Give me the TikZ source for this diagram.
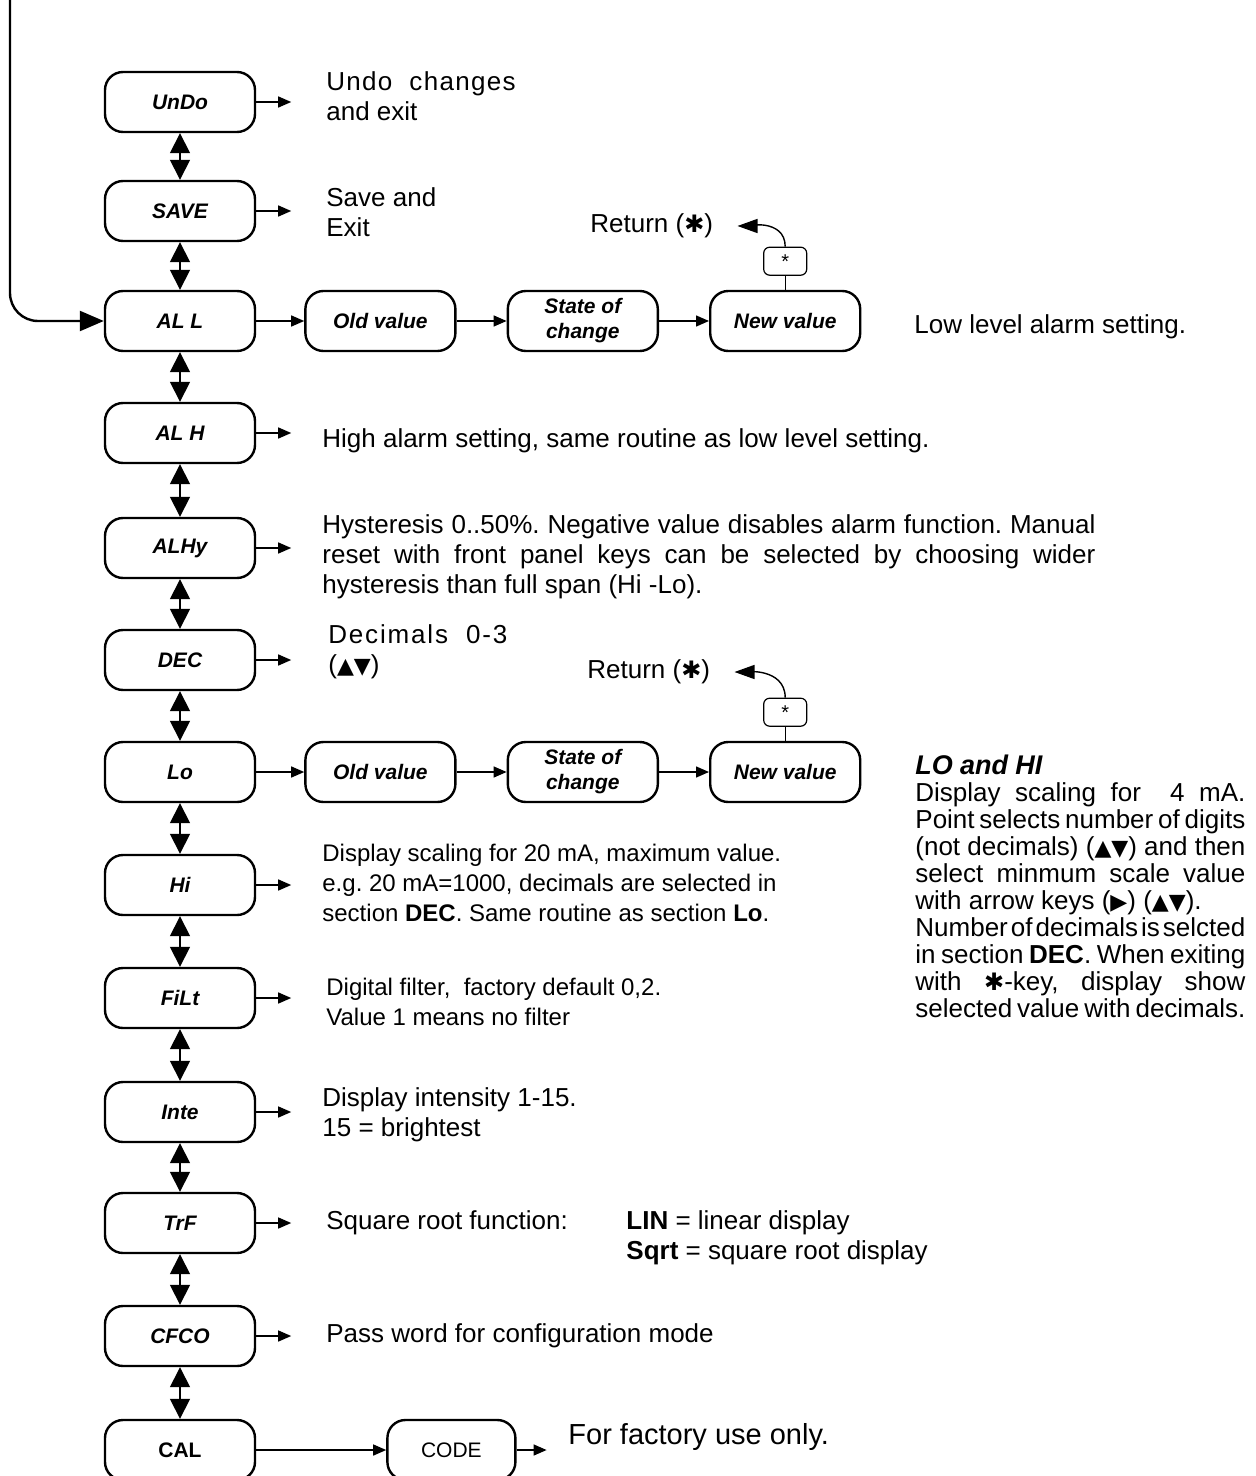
\documentclass[tikz,border=0pt]{standalone}
\usepackage{fontspec}
\setmainfont{Liberation Sans}
\newfontfamily\symfont{DejaVu Sans}
\usetikzlibrary{arrows.meta,positioning}
\frenchspacing

% key symbols used in the texts
\newcommand{\updn}{{\symfont\fontsize{11}{11}\selectfont ▲▼}}
\newcommand{\rgt}{{\symfont\fontsize{11}{11}\selectfont ▶}}
\newcommand{\starkey}{{\symfont\fontsize{12}{12}\selectfont ✱}}
% tight justified paragraph, breaks only where asked
\newcommand{\tightpar}{\hyphenpenalty=10000 \tolerance=10000
  \spaceskip=0.278em plus 0.6em minus 0.2em\relax}

\begin{document}
\begin{tikzpicture}[x=0.5pt,y=-0.5pt,
    menu/.style={draw,line width=1.2pt,rounded corners=9pt,minimum width=75pt,
      minimum height=30pt,inner sep=0pt,align=center,
      font=\fontsize{10.5}{12.5}\selectfont\bfseries\itshape},
    keybox/.style={draw,line width=0.6pt,rounded corners=3pt,minimum width=21.5pt,
      minimum height=14pt,inner sep=0pt,font=\fontsize{10}{10}\selectfont},
    desc/.style={anchor=west,align=left,inner sep=0pt,font=\fontsize{13}{15}\selectfont},
    small/.style={font=\fontsize{12}{15}\selectfont},
    nav/.style={line width=0.8pt,{Triangle[length=10pt,width=10pt]}-{Triangle[length=10pt,width=10pt]}},
    go/.style={line width=0.7pt,-{Triangle[length=6.5pt,width=5.5pt]}},
    back/.style={line width=0.7pt,-{Triangle[length=10pt,width=7pt]}}]
  \useasboundingbox (0,0) rectangle (1255,1476);

  % the menu column
  \foreach \name/\lbl/\y in {undo/UnDo/102,save/SAVE/211,all/AL L/321,alh/AL H/433,
      alhy/ALHy/548,dec/DEC/660,lo/Lo/772,hi/Hi/885,filt/FiLt/998,inte/Inte/1112,
      trf/TrF/1223,cfco/CFCO/1336}
    \node[menu] (\name) at (180,\y) {\lbl};
  \node[menu,font=\fontsize{10.5}{12}\selectfont\bfseries] (cal) at (180,1450) {CAL};

  \foreach \a/\b in {undo/save,save/all,all/alh,alh/alhy,alhy/dec,dec/lo,lo/hi,
      hi/filt,filt/inte,inte/trf,trf/cfco,cfco/cal}
    \draw[nav] (\a) -- (\b);

  \foreach \name in {undo,save,alh,alhy,dec,hi,filt,inte,trf,cfco} {
    \path (\name.east) ++(35,0) coordinate (\name-out);
    \draw[go] (\name) -- (\name-out);
  }

  % entry line
  \coordinate (entry) at (10,0);
  \draw[line width=1.2pt,-{Triangle[length=12pt,width=10pt]},rounded corners=14pt]
    (entry) |- (all);

  % AL L and Lo rows
  \foreach \row in {all,lo} {
    \node[menu,right=24pt of \row] (\row-old) {Old value};
    \node[menu,right=25pt of \row-old] (\row-state) {State of\\change};
    \node[menu,right=25pt of \row-state] (\row-new) {New value};
    \node[keybox,above=7pt of \row-new] (\row-key) {*};
    \draw[go] (\row) -- (\row-old);
    \draw[go] (\row-old) -- (\row-state);
    \draw[go] (\row-state) -- (\row-new);
    \draw[line width=0.6pt] (\row-key) -- (\row-new);
  }
  \node[desc] (all-ret) at (590,226) {Return (\starkey)};
  \node[desc] (lo-ret) at (587,672) {Return (\starkey)};
  \draw[back,shorten >=12pt] (all-key.north) to[out=90,in=0] (all-ret.east);
  \draw[back,shorten >=12pt] (lo-key.north) to[out=90,in=0] (lo-ret.east);

  % descriptions
  \node[desc] (undo-txt) at (326,96) {{\addfontfeature{LetterSpace=5}Undo \ changes}\\and exit};
  \node[desc] (save-txt) at (326,212) {Save and\\Exit};
  \node[desc] (all-txt) at (914,327) {Low level alarm setting.};
  \node[desc] (alh-txt) at (322,441) {High alarm setting, same routine as low level setting.};
  \node[desc,text width=386.5pt,align=justify] (alhy-txt) at (322,557)
    {Hysteresis 0..50\%. Negative value disables alarm function. Manual\linebreak
     reset with front panel keys can be selected by choosing wider\linebreak
     hysteresis than full span (Hi -Lo).};
  \node[desc] (dec-txt) at (328,652) {{\addfontfeature{LetterSpace=7}Decimals \ 0-3}\\(\updn)};
  \node[desc,small] (hi-txt) at (322,883) {Display scaling for 20 mA, maximum value.\\
    e.g. 20 mA=1000, decimals are selected in\\
    section \textbf{DEC}. Same routine as section \textbf{Lo}.};
  \node[desc,small] (filt-txt) at (326,1002) {Digital filter, \ factory default 0,2.\\Value 1 means no filter};
  \node[desc] (inte-txt) at (322,1115) {Display intensity 1-15.\\15 = brightest};
  \node[desc] (trf-txt) at (326,1223) {Square root function:};
  \node[desc] (trf-opt) at (626,1238) {\textbf{LIN} = linear display\\\textbf{Sqrt} = square root display};
  \node[desc] (cfco-txt) at (326,1336) {Pass word for configuration mode};

  % LO and HI note
  \node[anchor=north west,inner sep=0pt,text width=165pt,align=justify,
    font=\fontsize{13}{13.5}\selectfont] (lohi-txt) at (915,755)
    {\tightpar
     {\fontsize{13.5}{13.5}\selectfont\bfseries\itshape LO and HI}\\
     Display scaling for \ 4 mA.\linebreak
     Point selects number of digits\linebreak
     (not decimals) (\updn) and then\linebreak
     select minmum scale value\linebreak
     with arrow keys (\rgt) (\updn).\par
     Number of decimals is selcted\linebreak
     in section \textbf{DEC}. When exiting\linebreak
     with \starkey-key, display show\linebreak
     selected value with decimals.\parfillskip=0pt\par};

  % calibration row
  \node[menu,minimum width=64pt,font=\fontsize{10.5}{12}\selectfont,right=65pt of cal] (code) {CODE};
  \path (code.east) ++(30,0) coordinate (code-out);
  \draw[go] (cal) -- (code);
  \draw[go] (code) -- (code-out);
  \node[desc,font=\fontsize{14.5}{15}\selectfont] (cal-txt) at (568,1437) {For factory use only.};
\end{tikzpicture}
\end{document}
